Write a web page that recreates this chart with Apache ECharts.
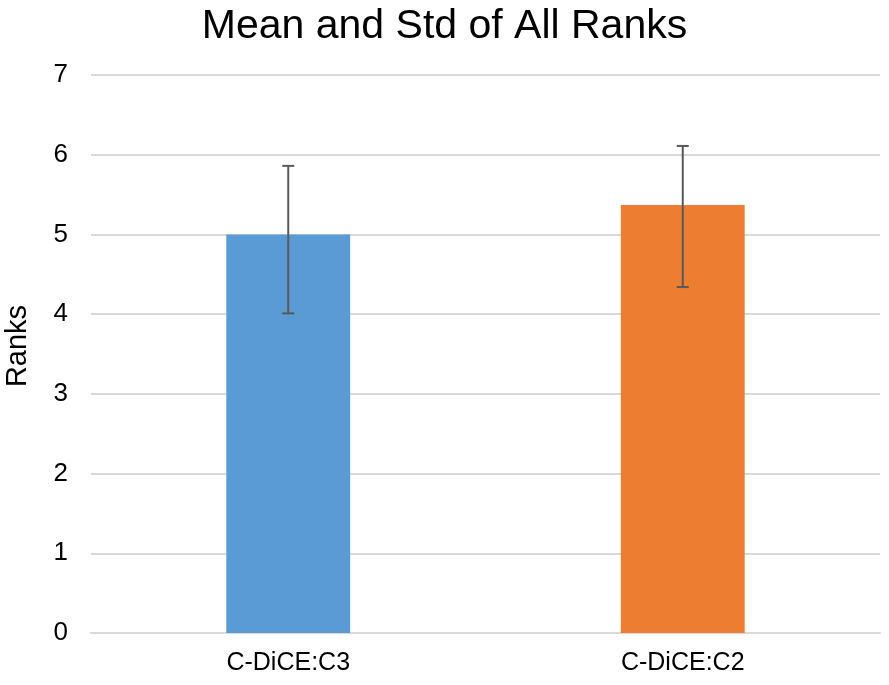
<!DOCTYPE html>
<html>
<head>
<meta charset="utf-8">
<script src="https://cdn.jsdelivr.net/npm/echarts@6/dist/echarts.min.js"></script>
<style>html,body{margin:0;padding:0;background:#fff}#c{width:889px;height:685px}</style>
</head>
<body>
<div id="c"></div>
<script>
const categories = ['C-DiCE:C3', 'C-DiCE:C2'];
const means = [5.0, 5.37];
const errUpper = [5.86, 6.11];
const errLower = [4.01, 4.34];
const colors = ['#5B9BD5', '#ED7D31'];
const yTicks = [0, 1, 2, 3, 4, 5, 6, 7];

const chart = echarts.init(document.getElementById('c'));
const font = '"Liberation Sans", Arial, sans-serif';
chart.setOption({
  animation: false,
  backgroundColor: '#fff',
  title: {
    text: 'Mean and Std of All Ranks',
    left: 'center', top: 1,
    textStyle: { fontFamily: font, fontSize: 41, fontWeight: 'normal', color: '#000' }
  },
  grid: { left: 91, right: 9, top: 75, bottom: 52, containLabel: false, outerBoundsMode: 'none' },
  xAxis: {
    type: 'category',
    data: categories,
    axisLine: { lineStyle: { color: '#D9D9D9', width: 2 } },
    axisTick: { show: false },
    axisLabel: { fontFamily: font, fontSize: 25, color: '#000', margin: 18 }
  },
  yAxis: {
    type: 'value',
    min: yTicks[0], max: yTicks[yTicks.length - 1], interval: 1,
    name: 'Ranks', nameLocation: 'middle', nameGap: 59, nameRotate: 90,
    nameTextStyle: { fontFamily: font, fontSize: 29, color: '#000', padding: [0, 0, 0, 16] },
    axisLine: { show: false },
    axisTick: { show: false },
    axisLabel: { fontFamily: font, fontSize: 26, color: '#000', margin: 23 },
    splitLine: { lineStyle: { color: '#D9D9D9', width: 2 } }
  },
  series: [
    {
      type: 'bar',
      data: means.map((v, i) => ({ value: v, itemStyle: { color: colors[i] } })),
      barWidth: '31.4%'
    },
    {
      type: 'custom',
      data: categories.map((c, i) => [i, errLower[i], errUpper[i]]),
      renderItem: function (params, api) {
        const x = api.value(0);
        const lo = api.coord([x, api.value(1)]);
        const hi = api.coord([x, api.value(2)]);
        const hw = 6;
        const style = { stroke: '#595959', lineWidth: 2 };
        return {
          type: 'group',
          children: [
            { type: 'line', shape: { x1: hi[0], y1: hi[1], x2: lo[0], y2: lo[1] }, style: style },
            { type: 'line', shape: { x1: hi[0] - hw, y1: hi[1], x2: hi[0] + hw, y2: hi[1] }, style: style },
            { type: 'line', shape: { x1: lo[0] - hw, y1: lo[1], x2: lo[0] + hw, y2: lo[1] }, style: style }
          ]
        };
      },
      z: 10
    }
  ]
});
</script>
</body>
</html>
